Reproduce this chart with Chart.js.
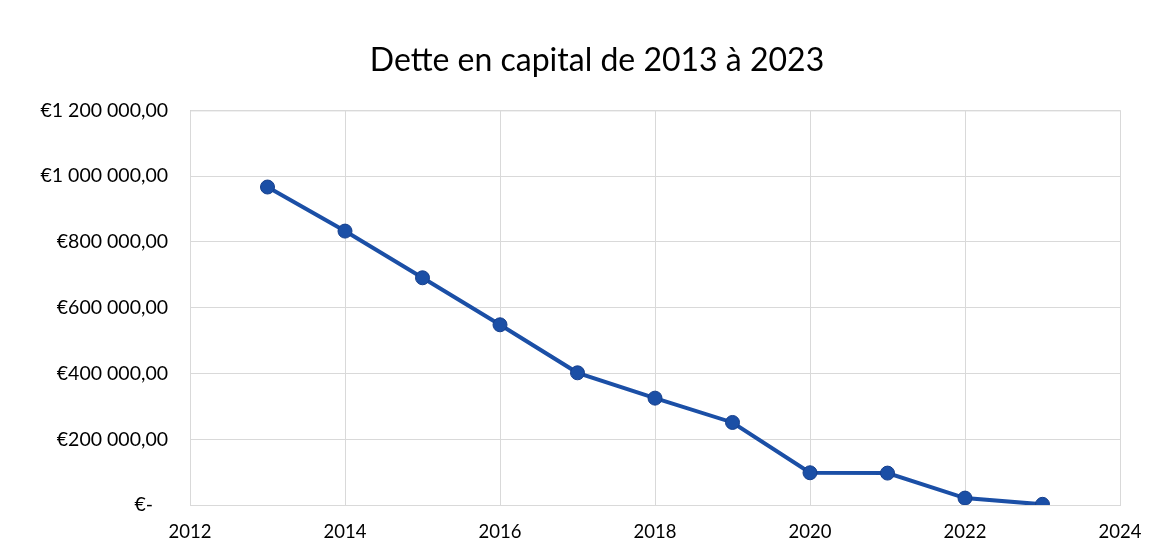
<!DOCTYPE html>
<html>
<head>
<meta charset="utf-8">
<script src="https://cdn.jsdelivr.net/npm/chart.js@4/dist/chart.umd.min.js"></script>
<style>
  html,body{margin:0;padding:0;background:#fff;}
  #wrap{width:1161px;height:557px;position:relative;}
</style>
</head>
<body>
<div id="wrap"><canvas id="c" width="1161" height="557"></canvas></div>
<script>
const years = [2013, 2014, 2015, 2016, 2017, 2018, 2019, 2020, 2021, 2022, 2023];
const debt = [967000, 833000, 691000, 548000, 402000, 325000, 251000, 98000, 97000, 21000, 2000];
const titleText = "Dette en capital de 2013 à 2023";
const xMin = 2012, xMax = 2024, xStep = 2;
const yMin = 0, yMax = 1200000, yStep = 200000;

function fmtEuro(v){
  if (v === 0) return "€-   ";
  const s = Math.round(v).toString().replace(/\B(?=(\d{3})+(?!\d))/g, " ");
  return "€" + s + ",00";
}

const ctx = document.getElementById('c').getContext('2d');
new Chart(ctx, {
  type: 'line',
  data: {
    datasets: [{
      data: years.map((y,i)=>({x:y, y:debt[i]})),
      borderColor: '#1b4fa6',
      backgroundColor: '#1b4fa6',
      borderWidth: 4,
      pointRadius: 7,
      pointHoverRadius: 7,
      pointBackgroundColor: '#1b4fa6',
      pointBorderColor: '#163f8c',
      pointBorderWidth: 1,
      tension: 0,
      fill: false
    }]
  },
  options: {
    responsive: false,
    animation: false,
    layout: { padding: { left: 0, right: 41, top: 0, bottom: 0 } },
    plugins: {
      legend: { display: false },
      tooltip: { enabled: false },
      title: {
        display: true,
        text: titleText,
        color: '#000',
        font: { family: 'Lato, "Open Sans", sans-serif', size: 32, weight: 'normal' },
        padding: { top: 41, bottom: 31 }
      }
    },
    scales: {
      x: {
        type: 'linear',
        min: xMin, max: xMax,
        ticks: {
          stepSize: xStep,
          color: '#000',
          padding: 16,
          font: { family: 'Lato, "Open Sans", sans-serif', size: 18.5 },
          callback: v => String(v)
        },
        grid: { color: '#d9d9d9', lineWidth: 1, drawTicks: false },
        border: { color: '#bfbfbf', width: 1 },
        afterFit: s => { s.height = 52; }
      },
      y: {
        min: yMin, max: yMax,
        ticks: {
          stepSize: yStep,
          color: '#000',
          padding: 22,
          font: { family: 'Lato, "Open Sans", sans-serif', size: 19.5 },
          callback: v => fmtEuro(v)
        },
        grid: { color: '#d9d9d9', lineWidth: 1, drawTicks: false },
        border: { color: '#d0d0d0', width: 1 },
        afterFit: s => { s.width = 190; }
      }
    }
  },
  plugins: [{
    id: 'titleShift',
    afterLayout(chart){
      const t = chart.titleBlock;
      if (t) { t.left = 74; t.right = 1120; t.width = 1046; }
    }
  },{
    id: 'frame',
    afterDraw(chart){
      const c = chart.ctx, a = chart.chartArea;
      c.save();
      c.strokeStyle = '#d9d9d9';
      c.lineWidth = 1;
      c.strokeRect(a.left+0.5, a.top+0.5, a.right-a.left, a.bottom-a.top);
      c.restore();
    }
  }]
});
</script>
</body>
</html>
